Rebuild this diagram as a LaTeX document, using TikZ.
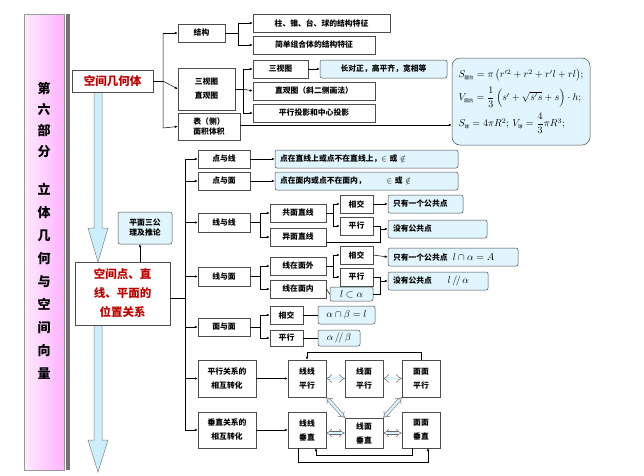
\documentclass[tikz,border=0pt]{standalone}
\usepackage{amsmath}
\usepackage{fontspec}
\newfontfamily\cjk{Noto Sans CJK SC}
\usetikzlibrary{arrows.meta}
\newcommand\mybox[7]{\node[#1,minimum width={#5-#3},minimum height={#6-#4}] (#2) at ({(#3+#5)/2},{(#4+#6)/2}) {#7};}
\newcommand\lbox[7]{\node[#1,minimum width={#5-#3},minimum height={#6-#4},text width={#5-#3-10},align=left] (#2) at ({(#3+#5)/2},{(#4+#6)/2}) {#7};}
\newcommand\zh[1]{\mbox{\cjk\fontsize{4.5}{4.5}\selectfont #1}}
\begin{document}
\begin{tikzpicture}[x=1pt,y=-1pt,
  box/.style={draw=black!70,fill=white,inner sep=0pt,font=\cjk\bfseries\fontsize{7.8}{10}\selectfont,align=center,line width=0.5pt},
  cbox/.style={box,fill=cyan!12,rounded corners=2pt},
  red/.style={box,text=red!75!black,font=\cjk\bfseries\fontsize{11.5}{19}\selectfont},
  arr/.style={-{Latex[length=3pt,width=2.5pt]},line width=0.5pt},
  ln/.style={line width=0.5pt},
  dbl/.style={double=cyan!15,double distance=2.5pt,line width=0.5pt,draw=black!60,{Implies}-{Implies}},
  hol/.style={fill=cyan!20,draw=black!50,line width=0.5pt}]
\useasboundingbox (0,0) rectangle (644,475);
\fill[white] (0,0) rectangle (644,475);
% left bar
\shade[left color=magenta!8,right color=magenta!30] (24,14) rectangle (64,470);
\draw[black!40] (24,14) rectangle (64,470);
\fill[black!55] (66,14) rectangle (70,470);
\node[font=\cjk\bfseries\fontsize{13}{21}\selectfont,align=center,inner sep=0] (t1) at (44,120) {第\\六\\部\\分};
\node[font=\cjk\bfseries\fontsize{13}{23}\selectfont,align=center,inner sep=0] (t2) at (44,281) {立\\体\\几\\何\\与\\空\\间\\向\\量};
% hollow arrows
\draw[hol] (94,92) -- (94,228) -- (88,228) -- (98,262) -- (108,228) -- (102,228) -- (102,92) -- cycle;
\draw[hol] (94,325) -- (94,440) -- (88,440) -- (98,472) -- (108,440) -- (102,440) -- (102,325) -- cycle;
% top part
\mybox{red}{kj}{72}{70}{153}{92}{空间几何体}
\mybox{box}{jg}{178}{24}{225}{42}{结构}
\mybox{box}{sst}{178}{68}{235}{110}{三视图\\[4pt]直观图}
\mybox{box}{bm}{178}{113}{240}{140}{表（侧）\\面积体积}
\mybox{box}{z1}{253}{14}{390}{32}{柱、锥、台、球的结构特征}
\mybox{box}{z2}{253}{36}{375}{54}{简单组合体的结构特征}
\mybox{box}{s1}{253}{60}{308}{78}{三视图}
\mybox{cbox}{s1c}{320}{60}{447}{78}{长对正，高平齐，宽相等}
\mybox{box}{s2}{253}{82}{375}{100}{直观图（斜二侧画法）}
\mybox{box}{s3}{253}{104}{375}{122}{平行投影和中心投影}
\node[cbox,rounded corners=8pt,minimum width=138,minimum height=87,align=left,font=\fontsize{10}{10}\selectfont] (fm) at (521,101.5) {%
$S_{\zh{圆台}}=\pi\left(r'^2+r^2+r'l+rl\right)$;\\[5pt]
$V_{\zh{圆台}}=\dfrac13\left(s'+\sqrt{s's}+s\right)\cdot h$;\\[5pt]
$S_{\zh{球}}=4\pi R^2$;\ $V_{\zh{球}}=\dfrac43\pi R^3$;};
\coordinate (a1) at (163,81);
\draw[ln] (kj.east) -- (a1);
\draw[arr] (163,33) |- (jg.west);
\draw[arr] (a1) -- (sst.west);
\draw[arr] (163,33) -- (163,128) -- (bm.west);
\coordinate (b1) at (238,33);
\draw[ln] (jg.east) -- (b1);
\draw[arr] (b1) |- (z1.west);
\draw[arr] (b1) |- (z2.west);
\coordinate (b2) at (243,89);
\draw[ln] (sst.east) -- (b2);
\draw[arr] (b2) |- (s1.west);
\draw[arr] (b2) -- (s2.west);
\draw[arr] (b2) |- (s3.west);
\draw[arr] (s1.east) -- (s1c.west);
\draw[arr] (bm.east |- 0,125) -- (fm.west |- 0,125);
% lower part
\mybox{red}{wz}{75}{262}{170}{325}{空间点、直\\线、平面的\\位置关系}
\mybox{cbox}{gl}{118}{212}{172}{244}{平面三公\\理及推论}
\draw[arr] (140,262) -- (140,244);
\coordinate (tr) at (185,298);
\draw[ln] (wz.east |- tr) -- (tr);
\draw[ln] (185,159) -- (185,430);
\mybox{box}{dx}{198}{150}{250}{168}{点与线}
\mybox{box}{dm}{198}{172}{250}{190}{点与面}
\mybox{box}{xx}{198}{213}{250}{232}{线与线}
\mybox{box}{xm}{198}{267}{250}{286}{线与面}
\mybox{box}{mm}{198}{318}{250}{336}{面与面}
\mybox{box}{px}{198}{360}{256}{397}{平行关系的\\[4pt]相互转化}
\mybox{box}{cz}{198}{412}{256}{448}{垂直关系的\\[4pt]相互转化}
\foreach \n in {dx,dm,xx,xm,mm,px,cz} \draw[arr] (185,0 |- \n.west) -- (\n.west);
\lbox{cbox}{dxc}{275}{150}{458}{168}{点在直线上或点不在直线上，$\in$ 或 $\notin$}
\lbox{cbox}{dmc}{275}{172}{458}{190}{点在面内或点不在面内，\qquad\ \ $\in$ 或 $\notin$}
\draw[arr] (dx.east) -- (dxc.west);
\draw[arr] (dm.east) -- (dmc.west);
% line-line
\mybox{box}{gm}{270}{204}{326}{222}{共面直线}
\mybox{box}{ym}{270}{228}{326}{246}{异面直线}
\mybox{box}{xj1}{340}{195}{373}{213}{相交}
\mybox{box}{px1}{340}{217}{373}{235}{平行}
\lbox{cbox}{o1}{388}{195}{463}{213}{只有一个公共点}
\lbox{cbox}{n1}{388}{220}{487}{238}{没有公共点}
\draw[ln] (xx.east) -- (260,222.5); \draw[arr] (260,222.5) |- (gm.west); \draw[arr] (260,222.5) |- (ym.west);
\draw[ln] (gm.east) -- (333,213); \draw[arr] (333,213) |- (xj1.west); \draw[arr] (333,213) |- (px1.west);
\draw[arr] (xj1.east) -- (o1.west);
\draw[ln] (px1.east) -- (380,226) -- (380,242) -- (ym.east |- 0,242);
\draw[arr] (380,229) -- (n1.west);
% line-plane
\mybox{box}{wm}{270}{257}{326}{275}{线在面外}
\mybox{box}{nm}{270}{280}{326}{298}{线在面内}
\mybox{box}{xj2}{340}{246}{373}{264}{相交}
\mybox{box}{px2}{340}{268}{373}{286}{平行}
\lbox{cbox}{o2}{388}{248}{518}{266}{只有一个公共点\ \ {\fontsize{10}{10}\selectfont$l\cap\alpha=A$}}
\lbox{cbox}{n2}{388}{272}{488}{290}{没有公共点\qquad {\fontsize{10}{10}\selectfont$l\,/\!/\,\alpha$}}
\mybox{cbox}{lc}{330}{287}{373}{301}{\fontsize{10}{10}\selectfont$l\subset\alpha$}
\draw[ln] (xm.east) -- (260,276.5); \draw[arr] (260,276.5) |- (wm.west); \draw[arr] (260,276.5) |- (nm.west);
\draw[ln] (wm.east) -- (333,266); \draw[arr] (333,266) |- (xj2.west); \draw[arr] (333,266) |- (px2.west);
\draw[arr] (xj2.east) -- (o2.west);
\draw[ln] (nm.east) -- (lc.west);
\draw[ln] (px2.east) -- (380,277) -- (380,294) -- (lc.east);
\draw[arr] (380,281) -- (n2.west);
% plane-plane
\mybox{box}{xj3}{270}{306}{303}{324}{相交}
\mybox{box}{px3}{270}{330}{303}{346}{平行}
\mybox{cbox}{ab1}{318}{306}{375}{324}{\fontsize{10}{10}\selectfont$\alpha\cap\beta=l$}
\mybox{cbox}{ab2}{318}{330}{360}{346}{\fontsize{10}{10}\selectfont$\alpha\,/\!/\,\beta$}
\draw[ln] (mm.east) -- (260,327); \draw[arr] (260,327) |- (xj3.west); \draw[arr] (260,327) |- (px3.west);
\draw[ln] (xj3.east) -- (ab1.west);
\draw[ln] (px3.east) -- (ab2.west);
% transformations
\mybox{box}{llp}{288}{360}{326}{397}{线线\\[4pt]平行}
\mybox{box}{lmp}{345}{360}{383}{397}{线面\\[4pt]平行}
\mybox{box}{mmp}{402}{360}{440}{397}{面面\\[4pt]平行}
\mybox{box}{llc}{288}{412}{326}{448}{线线\\[4pt]垂直}
\mybox{box}{lmc}{345}{418}{383}{448}{线面\\[4pt]垂直}
\mybox{box}{mmc}{402}{412}{440}{448}{面面\\[4pt]垂直}
\draw[arr] (px.east) -- (llp.west);
\draw[arr] (cz.east) -- (llc.west);
\draw[dbl] (llp.east) -- (lmp.west);
\draw[dbl] (lmp.east) -- (mmp.west);
\draw[dbl] (llc.east |- lmc.west) -- (lmc.west);
\draw[dbl] (lmc.east) -- (mmc.west |- lmc.east);
\draw[dbl] (llp.south east) -- (lmc.north west);
\draw[dbl] (mmp.south west) -- (lmc.north east);
\draw[arr] (mmp.north) -- ++(0,-8) -| (llp.north);
\draw[arr] (412,448) -- (412,455) -| (316,448);
\draw[arr] (298,448) -- (298,462) -| (428,448);
\end{tikzpicture}
\end{document}
